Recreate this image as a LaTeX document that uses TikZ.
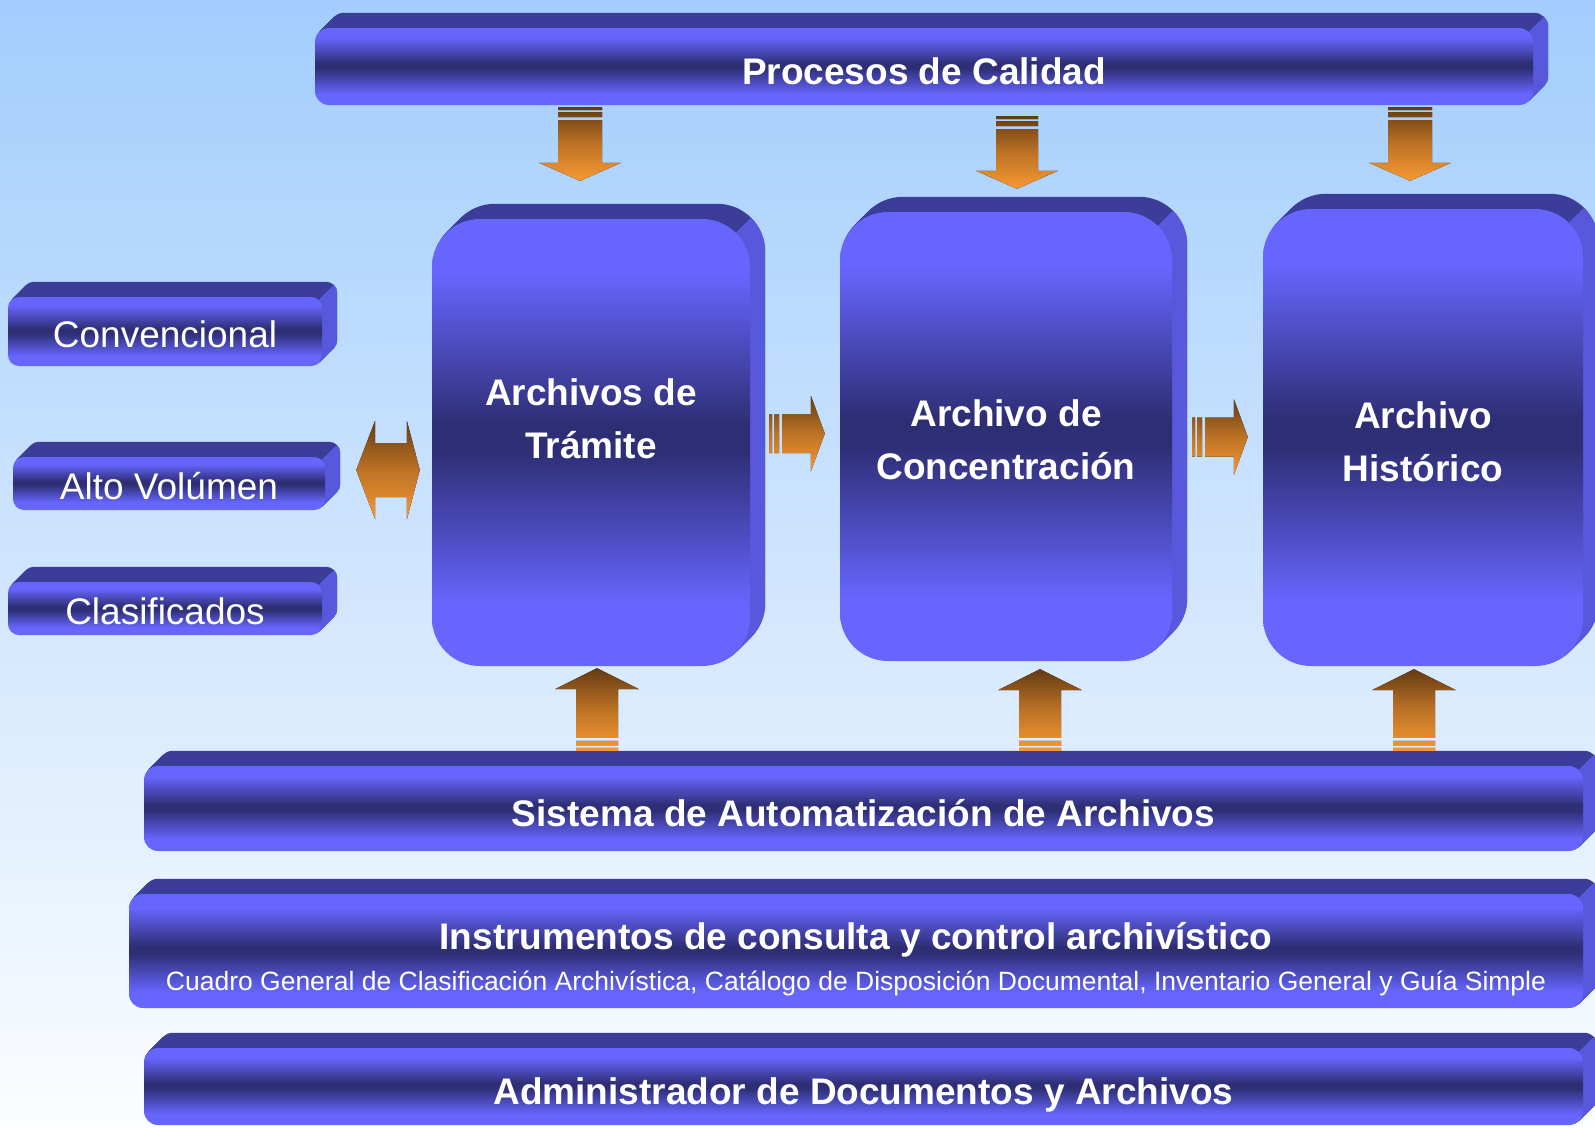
\documentclass[tikz,border=0pt]{standalone}
\usepackage{fontspec}
\setmainfont{Liberation Sans}
\usetikzlibrary{calc}

\definecolor{facelight}{RGB}{102,102,255}
\definecolor{facedark}{RGB}{46,46,117}
\definecolor{topface}{RGB}{60,60,153}
\definecolor{sideface}{RGB}{88,88,220}
\definecolor{arrowbrown}{RGB}{100,58,18}
\definecolor{arroworange}{RGB}{248,153,50}
\definecolor{bgtop}{RGB}{162,205,253}
\definecolor{bgbottom}{RGB}{252,253,255}

\pgfdeclareverticalshading{boxface}{100bp}{color(0bp)=(facelight); color(32bp)=(facelight); color(49bp)=(facedark); color(52bp)=(facedark); color(69bp)=(facelight); color(100bp)=(facelight)}

\pgfdeclarelayer{bg}
\pgfdeclarelayer{depth}
\pgfsetlayers{bg,depth,main}

\tikzset{
  boxfront/.style={inner sep=0pt, rounded corners=#1, shade, shading=boxface, text=white},
  bar/.style={boxfront=14pt, font=\bfseries\fontsize{37}{53}\selectfont, text height=37pt, text depth=2pt},
  tag/.style={boxfront=11pt, font=\fontsize{37}{53}\selectfont, text height=33pt, text depth=2pt},
  bigbox/.style={boxfront=48pt},
  boxtext/.style={text=white, align=center, font=\bfseries\fontsize{37}{53}\selectfont},
  arrowfill/.style={top color=arrowbrown, bottom color=arroworange, middle color=arroworange!60!arrowbrown}
}

% top and right faces behind a front node
\newcommand{\extrude}[2]{%
  \begin{pgfonlayer}{depth}
    \foreach \off in {1,...,15}
      \fill[topface, rounded corners=#2] ([shift={(\off,-\off)}]#1.south west) rectangle ([shift={(\off,-\off)}]#1.north east);
    \begin{scope}
      \clip ([shift={(-600,600)}]#1.north east) -- ([shift={(600,-600)}]#1.north east) -- ([shift={(600,600)}]#1.north east) -- cycle;
      \foreach \off in {1,...,15}
        \fill[sideface, rounded corners=#2] ([shift={(\off,-\off)}]#1.south west) rectangle ([shift={(\off,-\off)}]#1.north east);
    \end{scope}
  \end{pgfonlayer}}

% tail, tip, shaft half width, head half width, head length
\newcommand{\blockarrow}[5]{%
  \fill[arrowfill]
    ($(#1)!#3!90:(#2)$) -- ($(#1)!#3!-90:(#2)$) -- ($(#1)!3pt!(#2)!#3!-90:(#2)$) -- ($(#1)!3pt!(#2)!#3!90:(#2)$) -- cycle
    ($(#1)!5pt!(#2)!#3!90:(#2)$) -- ($(#1)!5pt!(#2)!#3!-90:(#2)$) -- ($(#1)!10pt!(#2)!#3!-90:(#2)$) -- ($(#1)!10pt!(#2)!#3!90:(#2)$) -- cycle
    ($(#1)!13pt!(#2)!#3!90:(#2)$) -- ($(#2)!#5!(#1)!#3!-90:(#1)$) -- ($(#2)!#5!(#1)!#4!-90:(#1)$) -- (#2)
      -- ($(#2)!#5!(#1)!#4!90:(#1)$) -- ($(#2)!#5!(#1)!#3!90:(#1)$) -- ($(#1)!13pt!(#2)!#3!-90:(#2)$) -- cycle;}

\begin{document}
\begin{tikzpicture}[x=1pt, y=-1pt]
  \useasboundingbox (0,0) rectangle (1595,1127);
  \begin{pgfonlayer}{bg}
    \fill[top color=bgtop, bottom color=bgbottom] (0,0) rectangle (1595,1127);
  \end{pgfonlayer}

  \node[bar, minimum width=1218pt, minimum height=77pt] (proc) at (924,66.5) {Procesos de Calidad};

  \node[tag, minimum width=314pt, minimum height=69pt] (conv) at (165,331.5) {Convencional};
  \node[tag, minimum width=312pt, minimum height=53pt] (alto) at (169,483.5) {Alto Volúmen};
  \node[tag, minimum width=314pt, minimum height=53pt] (clas) at (165,608.5) {Clasificados};

  \node[bigbox, minimum width=318pt, minimum height=447pt] (tram) at (591,442.5) {};
  \node[bigbox, minimum width=332pt, minimum height=449pt] (conc) at (1006,436.5) {};
  \node[bigbox, minimum width=320pt, minimum height=457pt] (hist) at (1423,437.5) {};
  \node[boxtext] (tramtxt) at ([yshift=23.5pt]tram.center) {Archivos de\\Trámite};
  \node[boxtext] (conctxt) at ([yshift=-3.5pt]conc.center) {Archivo de\\Concentración};
  \node[boxtext] (histtxt) at ([yshift=-4pt]hist.center) {Archivo\\Histórico};

  \node[bar, minimum width=1439pt, minimum height=85pt] (sist) at (863.5,808.5) {Sistema de Automatización de Archivos};
  \node[bar, minimum width=1454pt, minimum height=114pt] (inst) at (856,951) {};
  \node[boxtext, anchor=base] (insttitle) at ([yshift=1.7pt]inst.center) {Instrumentos de consulta y control archivístico};
  \node[boxtext, anchor=base, font=\fontsize{26.5}{32}\selectfont] (instsub) at ([yshift=-39.5pt]inst.center) {Cuadro General de Clasificación Archivística, Catálogo de Disposición Documental, Inventario General y Guía Simple};
  \node[bar, minimum width=1439pt, minimum height=77pt] (admin) at (863.5,1086.5) {Administrador de Documentos y Archivos};

  \foreach \nm/\rad in {proc/14pt, conv/11pt, alto/11pt, clas/11pt, tram/48pt, conc/48pt, hist/48pt, sist/14pt, inst/14pt, admin/14pt}
    {\extrude{\nm}{\rad}}

  % quality processes down into each archive
  \coordinate (qa1) at ($(tram.north |- proc.south)+(-11,2)$);
  \coordinate (qb1) at ($(tram.north)+(-11,-38)$);
  \coordinate (qa2) at ($(conc.north |- proc.south)+(11,11)$);
  \coordinate (qb2) at ($(conc.north)+(11,-23)$);
  \coordinate (qa3) at ($(hist.north |- proc.south)+(-13,2)$);
  \coordinate (qb3) at ($(hist.north)+(-13,-28)$);
  \blockarrow{qa1}{qb1}{22pt}{41pt}{18pt}
  \blockarrow{qa2}{qb2}{21pt}{41pt}{18pt}
  \blockarrow{qa3}{qb3}{22pt}{41pt}{18pt}

  % automation system up into each archive
  \coordinate (sa1) at ($(tram.south |- sist.north)+(6,-15)$);
  \coordinate (sb1) at ($(tram.south)+(6,2)$);
  \coordinate (sa2) at ($(conc.south |- sist.north)+(34,-15)$);
  \coordinate (sb2) at ($(conc.south)+(34,8)$);
  \coordinate (sa3) at ($(hist.south |- sist.north)+(-9,-15)$);
  \coordinate (sb3) at ($(hist.south)+(-9,3)$);
  \blockarrow{sa1}{sb1}{21pt}{42pt}{21pt}
  \blockarrow{sa2}{sb2}{21pt}{42pt}{21pt}
  \blockarrow{sa3}{sb3}{21pt}{42pt}{21pt}

  % archive to archive
  \coordinate (ta1) at ($(tram.east)+(19,-9)$);
  \coordinate (tb1) at ($(conc.west)+(-15,-3)$);
  \coordinate (ta2) at ($(conc.east)+(20,0.5)$);
  \coordinate (tb2) at ($(hist.west)+(-15,-0.5)$);
  \blockarrow{ta1}{tb1}{19.5pt}{38pt}{14pt}
  \blockarrow{ta2}{tb2}{19.5pt}{38pt}{14pt}

  % media types <-> Tramite
  \coordinate (dl) at ($(alto.east)+(31,-13.5)$);
  \coordinate (dr) at ($(tram.west)+(-12,27.5)$);
  \fill[arrowfill] (dl) -- ($(dl)!19pt!(dr)!49.5pt!90:(dr)$) -- ($(dl)!19pt!(dr)!27pt!90:(dr)$)
    -- ($(dr)!13pt!(dl)!27pt!-90:(dl)$) -- ($(dr)!13pt!(dl)!49.5pt!-90:(dl)$) -- (dr)
    -- ($(dr)!13pt!(dl)!49.5pt!90:(dl)$) -- ($(dr)!13pt!(dl)!27pt!90:(dl)$)
    -- ($(dl)!19pt!(dr)!27pt!-90:(dr)$) -- ($(dl)!19pt!(dr)!49.5pt!-90:(dr)$) -- cycle;
\end{tikzpicture}
\end{document}
